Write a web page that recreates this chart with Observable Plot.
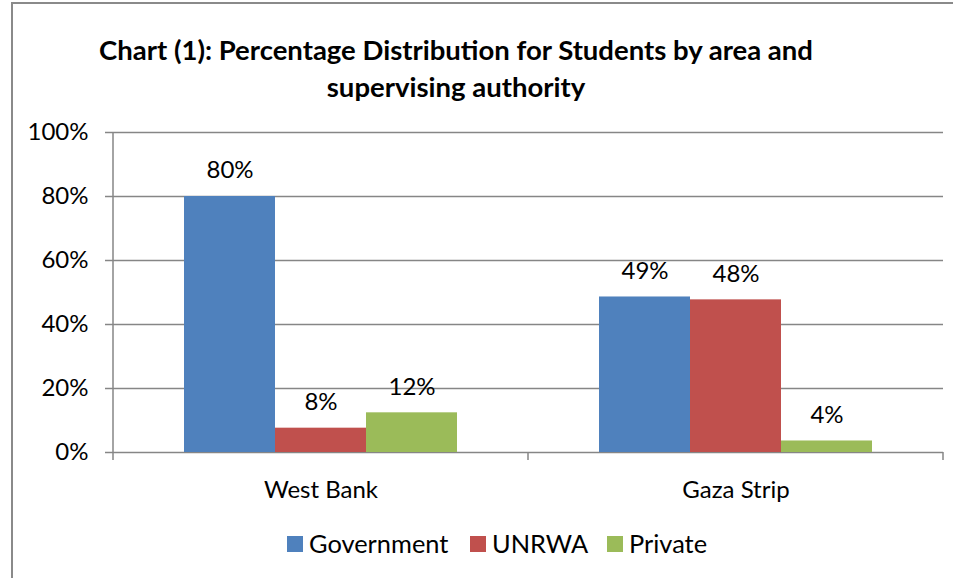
<!DOCTYPE html>
<html>
<head>
<meta charset="utf-8">
<script src="https://cdn.jsdelivr.net/npm/d3@7"></script>
<script src="https://cdn.jsdelivr.net/npm/@observablehq/plot@0.6"></script>
<style>
  html, body { margin: 0; padding: 0; background: #fff; overflow: hidden; }
  #wrap { position: relative; width: 953px; height: 578px; overflow: hidden; font-family: Lato, "Open Sans", sans-serif; color: #000; }
  #frameLines { position: absolute; left: 11px; top: 2px; width: 2000px; height: 2000px; border-left: 2px solid #8a8a8a; border-top: 2px solid #8a8a8a; pointer-events: none; }
  #title { position: absolute; left: 0; top: 31px; width: 912px; text-align: center; font-weight: bold; font-size: 27.5px; line-height: 37px; }
  #chart { position: absolute; left: 0; top: 0; }
  .lg-sw { position: absolute; width: 16px; height: 16px; top: 536px; }
  .lg-tx { position: absolute; top: 528px; font-size: 25.4px; line-height: 30px; white-space: nowrap; }
</style>
</head>
<body>
<div id="wrap">
  <div id="chart"></div>
  <div id="title"></div>
  <div id="legend"></div>
  <div id="frameLines"></div>
</div>
<script>
const titleLines = ["Chart (1): Percentage Distribution for Students by area and", "supervising authority"];
const areas = ["West Bank", "Gaza Strip"];
const authorities = ["Government", "UNRWA", "Private"];
const westBank = [80.0, 7.6, 12.4];
const gazaStrip = [48.6, 47.7, 3.6];
const colors = ["#4F81BD", "#C0504D", "#9BBB59"];
const yTicks = [0, 20, 40, 60, 80, 100];
const legendX = [287, 470, 607];

const seriesByArea = [westBank, gazaStrip];
const data = areas.flatMap((a, i) => authorities.map((s, j) => ({area: a, authority: s, value: seriesByArea[i][j]})));

const fontFamily = 'Lato, "Open Sans", sans-serif';
const chart = Plot.plot({
  width: 953,
  height: 520,
  marginTop: 132,
  marginBottom: 68,
  marginLeft: 113,
  marginRight: 10,
  style: {fontFamily, fontSize: "24px", color: "#000", background: "transparent", overflow: "visible"},
  fx: {domain: areas, padding: 0, label: null, axis: null},
  x: {domain: authorities, paddingInner: 0, paddingOuter: 0.763, axis: null},
  y: {domain: [0, 100], axis: null},
  color: {domain: authorities, range: colors},
  marks: [
    Plot.gridY(yTicks, {stroke: "#868686", strokeOpacity: 1, strokeWidth: 1.5}),
    Plot.barY(data, {fx: "area", x: "authority", y: "value", fill: "authority"}),
    Plot.text(data, {fx: "area", x: "authority", y: "value", text: d => Math.round(d.value) + "%", dy: -26, lineAnchor: "middle", fontSize: 24, fill: "#000"}),
    Plot.axisY(yTicks, {tickSize: 8, tickPadding: 17, tickFormat: d => d + "%", stroke: "#868686", strokeWidth: 1.5, fill: "#000", fontSize: 24, label: null}),
    Plot.axisFx({anchor: "bottom", tickSize: 0, tickPadding: 28, fontSize: 24, label: null, fill: "#000"})
  ]
});

// axis line and category separators using the plot's own scales
const fx = chart.scale("fx");
const y = chart.scale("y");
const svg = d3.select(chart);
const g = svg.append("g").attr("stroke", "#868686").attr("stroke-width", 1.5);
const x0 = fx.apply(areas[0]);
g.append("line").attr("x1", x0).attr("x2", x0).attr("y1", y.apply(100)).attr("y2", y.apply(0) + 8);
areas.forEach(a => {
  const xr = fx.apply(a) + fx.bandwidth;
  g.append("line").attr("x1", xr).attr("x2", xr).attr("y1", y.apply(0)).attr("y2", y.apply(0) + 8);
});
document.getElementById("chart").appendChild(chart);

document.getElementById("title").innerHTML = titleLines.join("<br>");

const legend = document.getElementById("legend");
authorities.forEach((s, i) => {
  const sw = document.createElement("div");
  sw.className = "lg-sw";
  sw.style.left = legendX[i] + "px";
  sw.style.background = colors[i];
  legend.appendChild(sw);
  const tx = document.createElement("div");
  tx.className = "lg-tx";
  tx.style.left = (legendX[i] + 22) + "px";
  tx.textContent = s;
  legend.appendChild(tx);
});
</script>
</body>
</html>
